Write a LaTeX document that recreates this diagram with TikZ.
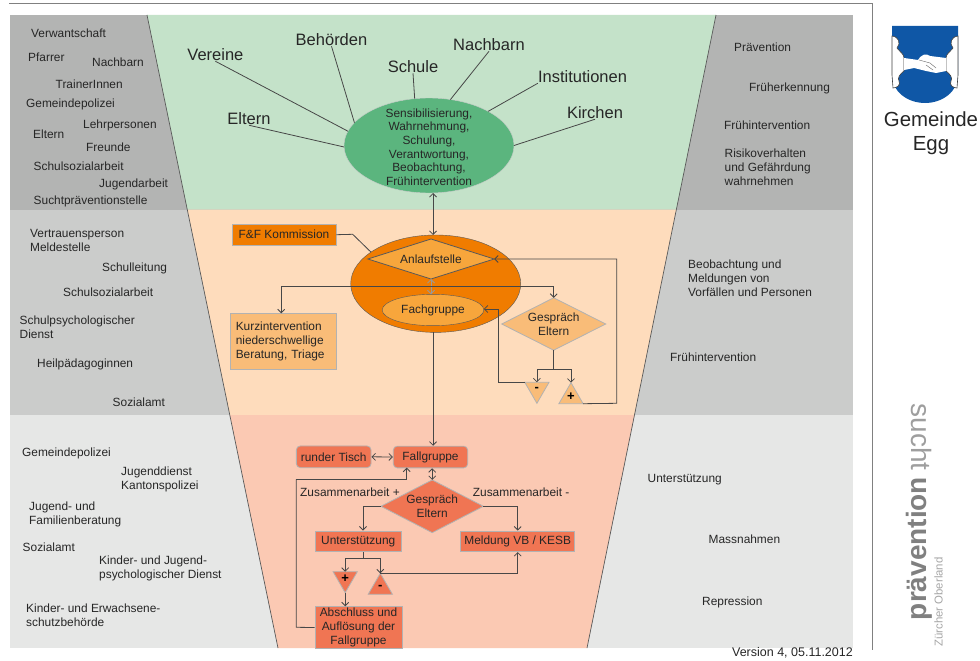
\documentclass[tikz,border=0pt]{standalone}
\usepackage{fontspec}
\setmainfont{Liberation Sans}
\usetikzlibrary{shapes.geometric,arrows.meta}
\definecolor{greyA}{HTML}{B3B4B3}
\definecolor{greyB}{HTML}{CBCCCB}
\definecolor{greyC}{HTML}{E6E7E6}
\definecolor{bandgreen}{HTML}{C4E2C9}
\definecolor{bandpeach}{HTML}{FEDCBC}
\definecolor{bandsalmon}{HTML}{FBC9B3}
\definecolor{ovalgreen}{HTML}{5BB57E}
\definecolor{ovalorange}{HTML}{F07C00}
\definecolor{midorange}{HTML}{F7A63C}
\definecolor{softorange}{HTML}{F9BC78}
\definecolor{boxred}{HTML}{F07553}
\definecolor{shieldblue}{HTML}{0F57A6}
\tikzset{
  lbl/.style={anchor=west, inner sep=0pt, align=left, text=black!85, font=\fontsize{11.9}{14}\selectfont},
  biglbl/.style={inner sep=0pt, text=black!85, font=\fontsize{16.5}{19}\selectfont},
  conn/.style={draw=black!72, line width=0.8pt},
  softedge/.style={draw=black!30, line width=0.8pt},
  redbox/.style={softedge, fill=boxred, inner sep=0pt, align=center, text=black!85, font=\fontsize{11.9}{14}\selectfont},
  rhomb/.style={diamond, softedge, inner sep=0pt, outer sep=0pt, aspect=2, align=center, text=black!85, font=\fontsize{11.9}{14}\selectfont},
  tri/.style={regular polygon, regular polygon sides=3, softedge, minimum size=28pt, inner sep=0pt, outer sep=0pt, font=\bfseries\fontsize{13}{14}\selectfont}
}
\begin{document}
\begin{tikzpicture}[x=1pt,y=-1pt,>={Straight Barb[length=3.5pt,width=7pt]}]
\useasboundingbox (0,0) rectangle (980,661);

% Frame
\draw[black!50, line width=0.9pt] (9,3) -- (872,3) -- (872,650);

% Grey bands
\fill[greyA] (9.5,15) rectangle (853,209.5);
\fill[greyB] (9.5,209.5) rectangle (853,415);
\fill[greyC] (9.5,415) rectangle (853,648);

% Funnel
\fill[bandgreen] (147,15) -- (716,15) -- (676.4,209.5) -- (187.3,209.5) -- cycle;
\fill[bandpeach] (187.3,209.5) -- (676.4,209.5) -- (634.5,415) -- (229.8,415) -- cycle;
\fill[bandsalmon] (229.8,415) -- (634.5,415) -- (587,648) -- (278,648) -- cycle;
\draw[black!65, line width=0.7pt] (147,15) -- (278,648);
\draw[black!65, line width=0.7pt] (716,15) -- (587,648);

% Left column, top
\node[lbl] (verwandt) at (31,33.5) {Verwantschaft};
\node[lbl] (pfarrer) at (28,57.5) {Pfarrer};
\node[lbl] (nachbarnL) at (92,62) {Nachbarn};
\node[lbl] (trainer) at (55.5,84.5) {TrainerInnen};
\node[lbl] (polizeiA) at (26,104) {Gemeindepolizei};
\node[lbl] (elternL) at (33,134.5) {Eltern};
\node[lbl] (lehrer) at (83,125.5) {Lehrpersonen};
\node[lbl] (freunde) at (86,147.5) {Freunde};
\node[lbl] (sozarbA) at (33.5,166) {Schulsozialarbeit};
\node[lbl] (jugendarb) at (99,184) {Jugendarbeit};
\node[lbl] (suchtstelle) at (33.5,201) {Suchtpräventionstelle};

% Left column, middle
\node[lbl] (vertrauen) at (30,240) {Vertrauensperson\\Meldestelle};
\node[lbl] (leitung) at (102,268) {Schulleitung};
\node[lbl] (sozarbB) at (63,292.5) {Schulsozialarbeit};
\node[lbl] (psychdienst) at (19.5,327) {Schulpsychologischer\\Dienst};
\node[lbl] (heilpaed) at (37,364.5) {Heilpädagoginnen};
\node[lbl] (sozamtA) at (112.5,402) {Sozialamt};

% Left column, bottom
\node[lbl] (polizeiB) at (22,453.5) {Gemeindepolizei};
\node[lbl] (jugenddienst) at (121,479) {Jugenddienst\\Kantonspolizei};
\node[lbl] (famberatung) at (29,514) {Jugend- und\\Familienberatung};
\node[lbl] (sozamtB) at (22.5,547) {Sozialamt};
\node[lbl] (kjpd) at (99,568) {Kinder- und Jugend-\\psychologischer Dienst};
\node[lbl] (kesb) at (26,615) {Kinder- und Erwachsene-\\schutzbehörde};

% Right column
\node[lbl] (praevR) at (734,47.5) {Prävention};
\node[lbl] (frueherk) at (749,88) {Früherkennung};
\node[lbl] (fruehA) at (724,125) {Frühintervention};
\node[lbl] (risiko) at (724.5,167) {Risikoverhalten\\und Gefährdung\\wahrnehmen};
\node[lbl] (beob) at (688,278.5) {Beobachtung und\\Meldungen von\\Vorfällen und Personen};
\node[lbl] (fruehB) at (670,357.5) {Frühintervention};
\node[lbl] (unterstR) at (647.5,479.5) {Unterstützung};
\node[lbl] (massn) at (708.5,539.5) {Massnahmen};
\node[lbl] (repr) at (702,602) {Repression};

% Green part
\node[ellipse, fill=ovalgreen, draw=black!20, minimum width=170pt, minimum height=95pt, inner sep=0pt, outer sep=0pt] (sens) at (429,145.5) {};
\node[inner sep=0pt, align=center, text=black!85, font=\fontsize{11.9}{13.7}\selectfont] (senstext) at (429,147) {Sensibilisierung,\\Wahrnehmung,\\Schulung,\\Verantwortung,\\Beobachtung,\\Frühintervention};
\node[biglbl] (vereine) at (215.4,55) {Vereine};
\node[biglbl] (behoerden) at (331.5,40) {Behörden};
\node[biglbl] (nachbarn) at (489,45) {Nachbarn};
\node[biglbl] (schule) at (413,67) {Schule};
\node[biglbl] (institut) at (582.5,77) {Institutionen};
\node[biglbl] (kirchen) at (595,113) {Kirchen};
\node[biglbl] (eltern) at (249,119) {Eltern};
\draw[conn] (vereine.south) -- (sens.170);
\draw[conn] (behoerden.south) -- (sens.163);
\draw[conn] (schule.south) -- (sens.107);
\draw[conn] (nachbarn.south) -- (sens.65);
\draw[conn] (institut.south west) -- (sens.30);
\draw[conn] (kirchen.south) -- (sens.0);
\draw[conn] (eltern.south) -- (sens.181);

% Orange part
\node[rectangle, softedge, fill=ovalorange, minimum width=104pt, minimum height=20.7pt, inner sep=0pt, text=black!85, font=\fontsize{11.9}{14}\selectfont] (kommission) at (284,234.7) {F\&F Kommission};
\node[ellipse, fill=ovalorange, draw=black!65, minimum width=170pt, minimum height=97.4pt, inner sep=0pt, outer sep=0pt] (oval) at (435.7,283.7) {};
\node[rhomb, draw=black!65, fill=midorange, minimum width=126.3pt, minimum height=40pt, aspect=3.15] (anlauf) at (431,259) {Anlaufstelle};
\node[ellipse, draw=black!65, fill=midorange, minimum width=101.7pt, minimum height=31.4pt, inner sep=0pt, outer sep=0pt, text=black!85, font=\fontsize{11.9}{14}\selectfont] (fach) at (433,310) {Fachgruppe};
\node[rectangle, softedge, fill=softorange, minimum width=105.7pt, minimum height=56pt, inner sep=5.4pt, text width=94.9pt, align=left, text=black!85, font=\fontsize{11.9}{13.8}\selectfont] (kurz) at (283.2,341.7) {Kurzintervention\\niederschwellige\\Beratung, Triage};
\node[rhomb, fill=softorange, minimum width=104pt, minimum height=52.4pt] (gespraechA) at (553.7,324) {Gespräch\\Eltern};
\node[tri, fill=softorange, shape border rotate=180] (minusA) at (536.9,389.3) {-};
\node[tri, fill=softorange] (plusA) at (571,396.7) {+};
\coordinate (ffknick) at (352.7,234.3);
\coordinate (bus) at (431,286.7);
\coordinate (gabelA) at (553.7,369);
\coordinate (fachecke) at (498.7,309);
\coordinate (rueckecke) at (616.7,403.3);
\draw[conn] (kommission.east) -- (ffknick) -- (oval.154);
\draw[conn,<->] (sens.south -| fach.north) -- (oval.north -| fach.north);
\draw[conn,black!40,<->] (anlauf.south) -- (anlauf.south |- fach.north);
\draw[conn,->] (bus) -| ([xshift=-2pt]kurz.north);
\draw[conn,->] (bus) -| (gespraechA.north);
\draw[conn] (gespraechA.south) -- (gabelA);
\draw[conn,->] (gabelA) -| (minusA.corner 2 -| minusA.center);
\draw[conn,->] (gabelA) -| (plusA.corner 1);
\draw[conn,->] (minusA.corner 3) -| (fachecke) -- (fach.east |- fachecke);
\draw[conn,->] (plusA.corner 3) -- (rueckecke) |- (anlauf.east);

% Red part
\node[redbox, rounded corners=4pt, minimum width=74.7pt, minimum height=21.7pt] (tisch) at (333.7,456.8) {runder Tisch};
\node[redbox, rounded corners=4pt, minimum width=74.4pt, minimum height=21.7pt] (fallgruppe) at (430.5,457) {Fallgruppe};
\node[rhomb, fill=boxred, minimum width=102.4pt, minimum height=52.7pt] (gespraechB) at (432.2,506.3) {Gespräch\\Eltern};
\node[redbox, minimum width=86.3pt, minimum height=20.7pt] (unterst) at (358.2,541.3) {Unterstützung};
\node[redbox, minimum width=114pt, minimum height=20.7pt] (meldung) at (517.7,541.3) {Meldung VB / KESB};
\node[tri, fill=boxred, shape border rotate=180] (plusB) at (345.2,578.7) {+};
\node[tri, fill=boxred] (minusB) at (380.3,587.3) {-};
\node[redbox, minimum width=87pt, minimum height=41.6pt, font=\fontsize{11.9}{13.6}\selectfont] (abschluss) at (358.5,627.5) {Abschluss und\\Auflösung der\\Fallgruppe};
\node[lbl] (zusplus) at (300,492) {Zusammenarbeit +};
\node[lbl] (zusminus) at (472.7,492) {Zusammenarbeit -};
\coordinate (gabelB) at (363,558.3);
\coordinate (linksoben) at (296.3,479.3);
\coordinate (linksunten) at (296.3,627.3);
\coordinate (fallziel) at (406.7,467.7);
\draw[conn,->] (oval.south -| fach.north) -- (fallgruppe.north -| fach.north);
\draw[conn,<->] (tisch.east) -- (fallgruppe.west);
\draw[conn,<->] (fallgruppe.south -| gespraechB.north) -- (gespraechB.north);
\draw[conn,->] (gespraechB.west) -| ([xshift=4.8pt]unterst.north);
\draw[conn,->] (gespraechB.east) -| (meldung.north);
\draw[conn] ([xshift=4.8pt]unterst.south) -- (gabelB);
\draw[conn,->] (gabelB) -| (plusB.center |- plusB.corner 2);
\draw[conn,->] (gabelB) -| (minusB.corner 1);
\draw[conn,->] (minusB.corner 1) -| (meldung.south);
\draw[conn,->] (plusB.corner 1) -- (plusB.corner 1 |- abschluss.north);
\draw[conn] (abschluss.west) -- (linksunten) -- (linksoben);
\draw[conn,->] (linksoben) -| (fallziel);

% Coat of arms
\fill[shieldblue] (892,26) -- (958,26) -- (958,75) .. controls (958,92) and (942,103) .. (925,103) .. controls (908,103) and (892,92) .. (892,75) -- cycle;
\draw[fill=white, draw=black!75, line width=0.6pt] (892,36) .. controls (899,37) and (901,43) .. (897,48) .. controls (900,52) and (904,54) .. (904,58) -- (904,71) .. controls (900,74) and (897,78) .. (899,81) .. controls (901,85) and (897,88) .. (893,88) -- (892,75) -- cycle;
\draw[fill=white, draw=black!75, line width=0.6pt] (958,36) .. controls (951,37) and (949,43) .. (953,48) .. controls (950,52) and (946,54) .. (946,58) -- (946,71) .. controls (950,74) and (953,78) .. (951,81) .. controls (949,85) and (953,88) .. (957,88) -- (958,75) -- cycle;
\fill[white] (904,58) -- (918,60) .. controls (922,54) and (926,53) .. (930,56) -- (946,58) -- (946,71) -- (936,73) -- (926,71) -- (914,68) -- (904,70) -- cycle;
\draw[black!60, line width=0.4pt] (919,60) -- (930,63) -- (936,68);
\draw[black!60, line width=0.4pt] (926,65) -- (933,70);

% Logo texts
\node[inner sep=0pt, align=center, text=black!85, font=\fontsize{20.4}{24}\selectfont] (gemeinde) at (931,133.5) {Gemeinde\\Egg};
\node[rotate=-90, anchor=base, inner sep=0pt, text=black!38, font=\fontsize{28}{30}\selectfont] (sucht) at (911,437) {sucht};
\node[rotate=90, anchor=base, inner sep=0pt, text=black!50, font=\bfseries\fontsize{28}{30}\selectfont] (praevlogo) at (926,548.5) {prävention};
\node[rotate=90, anchor=base, inner sep=0pt, text=black!35, font=\fontsize{11.4}{12}\selectfont] (oberland) at (942.5,602) {Zürcher Oberland};
\node[anchor=east, inner sep=0pt, text=black!85, font=\fontsize{12.5}{14}\selectfont] (version) at (853,652.5) {Version 4, 05.11.2012};

\end{tikzpicture}
\end{document}
